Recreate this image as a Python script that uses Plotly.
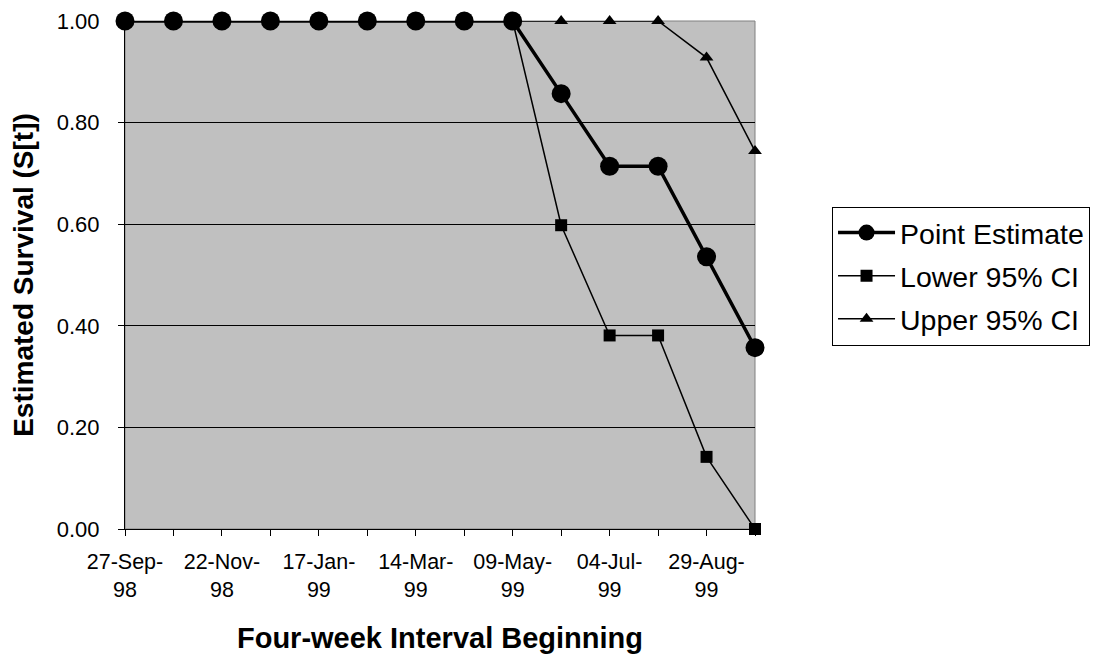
import plotly.graph_objects as go

intervals = ["27-Sep-98", "25-Oct-98", "22-Nov-98", "20-Dec-98", "17-Jan-99",
             "14-Feb-99", "14-Mar-99", "11-Apr-99", "09-May-99", "06-Jun-99",
             "04-Jul-99", "01-Aug-99", "29-Aug-99", "26-Sep-99"]
point_estimate = [1.00, 1.00, 1.00, 1.00, 1.00, 1.00, 1.00, 1.00, 1.00,
                  0.857, 0.714, 0.714, 0.536, 0.357]
lower_ci = [1.00, 1.00, 1.00, 1.00, 1.00, 1.00, 1.00, 1.00, 1.00,
            0.598, 0.381, 0.381, 0.142, 0.000]
upper_ci = [1.00, 1.00, 1.00, 1.00, 1.00, 1.00, 1.00, 1.00, 1.00,
            1.00, 1.00, 1.00, 0.928, 0.744]
tick_labels = ["27-Sep-<br>98", "", "22-Nov-<br>98", "", "17-Jan-<br>99", "",
               "14-Mar-<br>99", "", "09-May-<br>99", "", "04-Jul-<br>99", "",
               "29-Aug-<br>99", ""]

FONT = "Liberation Sans, Arial, sans-serif"

fig = go.Figure()
fig.add_trace(go.Scatter(
    x=intervals, y=upper_ci, name="Upper 95% CI", mode="lines+markers",
    line=dict(color="black", width=1.5),
    marker=dict(symbol="triangle-up", size=12, color="black"),
    cliponaxis=False, legendrank=3, legendgroup="u"))
fig.add_trace(go.Scatter(
    x=intervals, y=lower_ci, name="Lower 95% CI", mode="lines+markers",
    line=dict(color="black", width=1.5),
    marker=dict(symbol="square", size=12, color="black"),
    cliponaxis=False, legendrank=2, legendgroup="l"))
fig.add_trace(go.Scatter(
    x=intervals, y=point_estimate, name="Point Estimate", mode="lines+markers",
    line=dict(color="black", width=3.5),
    marker=dict(symbol="circle", size=19, color="black"),
    cliponaxis=False, legendrank=1, legendgroup="p"))

fig.add_shape(type="rect", xref="paper", yref="paper", x0=0, x1=1, y0=0, y1=1,
              line=dict(color="#808080", width=1), layer="below")

fig.update_layout(
    width=1091, height=650,
    margin=dict(l=117, r=344, t=13, b=129, autoexpand=False),
    paper_bgcolor="white", plot_bgcolor="#C0C0C0",
    font=dict(family=FONT, color="black", size=21.5),
    showlegend=True,
    legend=dict(xref="container", yref="container",
                x=0.7553, y=0.6945, xanchor="left", yanchor="top",
                bgcolor="white", bordercolor="black", borderwidth=1,
                font=dict(size=28.5, family=FONT), itemwidth=57,
                traceorder="grouped", tracegroupgap=3),
    xaxis=dict(type="category", range=[0, 13], tickmode="array",
               tickvals=intervals, ticktext=tick_labels,
               ticks="outside", ticklen=6, tickcolor="black",
               showline=True, linecolor="black", linewidth=1,
               showgrid=False, zeroline=False, ticklabelstandoff=7,
               automargin=False,
               title=dict(text="<b>Four-week Interval Beginning</b>",
                          font=dict(size=29, family=FONT), standoff=26)),
    yaxis=dict(range=[0, 1], dtick=0.2, tick0=0, tickformat=".2f",
               ticks="outside", ticklen=6, tickcolor="black",
               showline=True, linecolor="black", linewidth=1,
               showgrid=True, gridcolor="black", gridwidth=1,
               zeroline=False, ticklabelstandoff=14, automargin=False,
               tickfont=dict(size=22),
               title=dict(text="<b>Estimated Survival (S[t])</b>",
                          font=dict(size=28, family=FONT), standoff=26)),
)

fig.write_html("out.html")
